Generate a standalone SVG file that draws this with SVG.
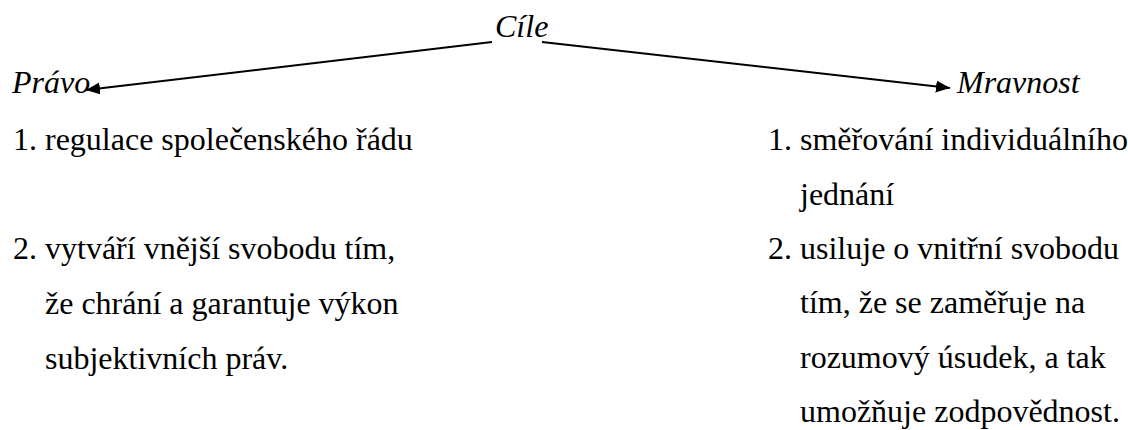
<svg xmlns="http://www.w3.org/2000/svg" width="1128" height="430" viewBox="0 0 1128 430">
  <style>
    text { font-family: "Liberation Serif", "Times New Roman", serif; font-size: 32px; fill: #000; }
    .it { font-style: italic; }
    .conn { stroke: #000; stroke-width: 2; fill: none; }
  </style>
  <defs>
    <marker id="arrow" markerUnits="userSpaceOnUse" markerWidth="15" markerHeight="13" refX="14" refY="6" orient="auto">
      <path d="M0,0 L14,6 L0,12 Z" fill="#000"/>
    </marker>
  </defs>
  <rect width="1128" height="430" fill="#fff"/>
  <g id="connectors">
    <line class="conn" x1="492" y1="42" x2="86" y2="90" marker-end="url(#arrow)"/>
    <line class="conn" x1="542" y1="42" x2="950" y2="88" marker-end="url(#arrow)"/>
  </g>
  <g id="cile">
    <text class="it" x="495" y="37">Cíle</text>
  </g>
  <g id="pravo">
    <text class="it" x="12" y="93">Právo</text>
    <text x="13" y="150">1.<tspan x="45">regulace společenského řádu</tspan></text>
    <text x="13" y="259">2.<tspan x="45">vytváří vnější svobodu tím,</tspan></text>
    <text x="45" y="314">že chrání a garantuje výkon</text>
    <text x="45" y="369">subjektivních práv.</text>
  </g>
  <g id="mravnost">
    <text class="it" x="957" y="93">Mravnost</text>
    <text x="768" y="150">1.<tspan x="800">směřování individuálního</tspan></text>
    <text x="800" y="205">jednání</text>
    <text x="768" y="259">2.<tspan x="800">usiluje o vnitřní svobodu</tspan></text>
    <text x="800" y="313">tím, že se zaměřuje na</text>
    <text x="800" y="368">rozumový úsudek, a tak</text>
    <text x="800" y="422">umožňuje zodpovědnost.</text>
  </g>
</svg>
